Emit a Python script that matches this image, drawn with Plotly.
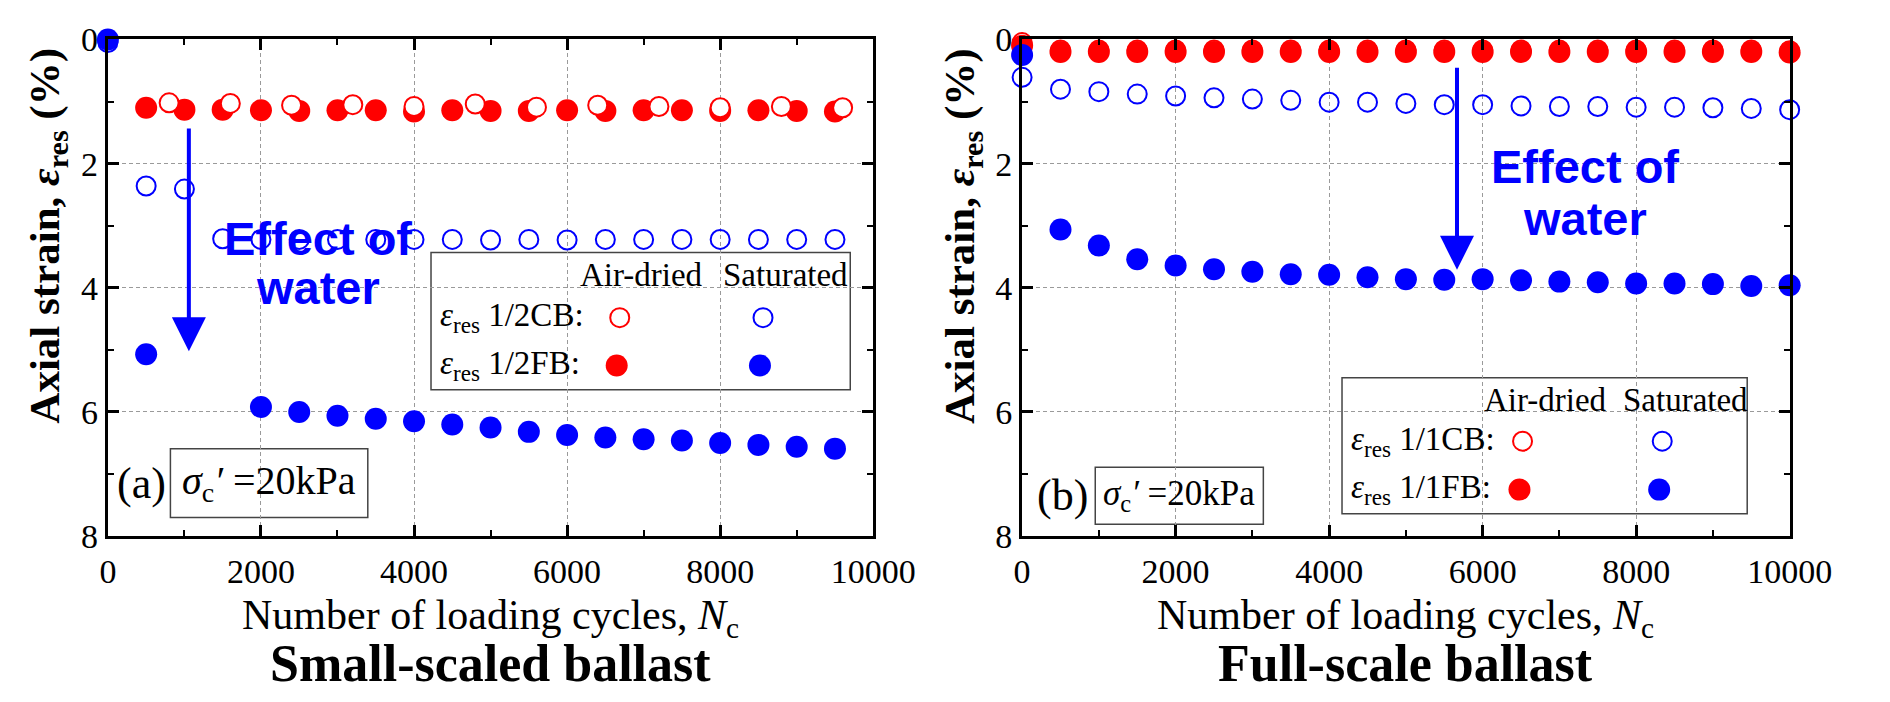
import plotly.graph_objects as go

# ---------------- data ----------------
# (a) Small-scaled ballast
N_a_air_FB = [500, 1000, 1500, 2000, 2500, 3000, 3500, 4000, 4500, 5000,
              5500, 6000, 6500, 7000, 7500, 8000, 8500, 9000, 9500]
a_air_FB = [1.10, 1.13, 1.13, 1.14, 1.15, 1.14, 1.14, 1.16, 1.14, 1.15,
            1.15, 1.14, 1.15, 1.14, 1.14, 1.15, 1.14, 1.15, 1.16]
N_a_air_CB = [800, 1600, 2400, 3200, 4000, 4800, 5600, 6400, 7200, 8000, 8800, 9600]
a_air_CB = [1.02, 1.03, 1.06, 1.05, 1.08, 1.04, 1.09, 1.06, 1.08, 1.10, 1.08, 1.10]
N_a_sat_CB = [0, 500, 1000, 1500, 2000, 2500, 3000, 3500, 4000, 4500, 5000,
              5500, 6000, 6500, 7000, 7500, 8000, 8500, 9000, 9500]
a_sat_CB = [0.05, 2.36, 2.41, 3.21, 3.22, 3.22, 3.22, 3.22, 3.22, 3.22, 3.23,
            3.22, 3.23, 3.22, 3.22, 3.22, 3.22, 3.22, 3.22, 3.22]
N_a_sat_FB = [0, 500, 2000, 2500, 3000, 3500, 4000, 4500, 5000, 5500,
              6000, 6500, 7000, 7500, 8000, 8500, 9000, 9500]
a_sat_FB = [0.00, 5.07, 5.92, 6.00, 6.06, 6.11, 6.15, 6.20, 6.25, 6.32,
            6.37, 6.41, 6.44, 6.46, 6.50, 6.53, 6.56, 6.59]

# (b) Full-scale ballast
N_b = [0, 500, 1000, 1500, 2000, 2500, 3000, 3500, 4000, 4500, 5000,
       5500, 6000, 6500, 7000, 7500, 8000, 8500, 9000, 9500, 10000]
b_air_CB = [0.05, 0.17, 0.17, 0.17, 0.17, 0.17, 0.17, 0.17, 0.17, 0.17, 0.17,
            0.17, 0.17, 0.17, 0.17, 0.17, 0.17, 0.17, 0.17, 0.17, 0.18]
b_air_FB = [0.10, 0.20, 0.20, 0.20, 0.20, 0.20, 0.20, 0.20, 0.20, 0.20, 0.20,
            0.20, 0.20, 0.20, 0.20, 0.20, 0.20, 0.20, 0.20, 0.20, 0.21]
b_sat_CB = [0.61, 0.80, 0.84, 0.88, 0.91, 0.94, 0.96, 0.98, 1.01, 1.01, 1.03,
            1.05, 1.05, 1.07, 1.08, 1.08, 1.09, 1.09, 1.10, 1.11, 1.13]
b_sat_FB = [0.25, 3.06, 3.32, 3.54, 3.64, 3.70, 3.74, 3.78, 3.79, 3.83, 3.86,
            3.87, 3.86, 3.88, 3.90, 3.91, 3.93, 3.93, 3.94, 3.97, 3.96]

x_ticks = [0, 2000, 4000, 6000, 8000, 10000]
x_tick_text = ["0", "2000", "4000", "6000", "8000", "10000"]
y_ticks = [0, 2, 4, 6, 8]
y_tick_text = ["0", "2", "4", "6", "8"]

RED = "#FF0000"
BLUE = "#0000FF"
SERIF = "Liberation Serif"
SANS = "Liberation Sans"

fig = go.Figure()

def filled(x, y, color, xa, ya):
    return go.Scatter(x=x, y=y, mode="markers", xaxis=xa, yaxis=ya, showlegend=False,
                      cliponaxis=False, hoverinfo="skip",
                      marker=dict(symbol="circle", size=22, color=color, line=dict(width=0)))

def opened(x, y, color, xa, ya, fill="white"):
    return go.Scatter(x=x, y=y, mode="markers", xaxis=xa, yaxis=ya, showlegend=False,
                      cliponaxis=False, hoverinfo="skip",
                      marker=dict(symbol="circle", size=19, color=fill,
                                  line=dict(width=2, color=color)))

CLEAR = "rgba(255,255,255,0)"
# panel (a)
fig.add_trace(filled(N_a_air_FB, a_air_FB, RED, "x", "y"))
fig.add_trace(opened(N_a_air_CB, a_air_CB, RED, "x", "y"))
fig.add_trace(filled(N_a_sat_FB, a_sat_FB, BLUE, "x", "y"))
fig.add_trace(opened(N_a_sat_CB, a_sat_CB, BLUE, "x", "y", fill=CLEAR))

# panel (b)
fig.add_trace(opened(N_b, b_air_CB, RED, "x2", "y2"))
fig.add_trace(filled(N_b, b_air_FB, RED, "x2", "y2"))
fig.add_trace(opened(N_b, b_sat_CB, BLUE, "x2", "y2", fill=CLEAR))
fig.add_trace(filled(N_b, b_sat_FB, BLUE, "x2", "y2"))

# custom legends (marker samples)
leg_a = dict(air_x=6688, sat_x=8560, r1=4.48, r2=5.25)
leg_b = dict(air_x=6520, sat_x=8340, r1=6.47, r2=7.25)
for xa, ya, L in [("x", "y", leg_a), ("x2", "y2", leg_b)]:
    fig.add_trace(opened([L["air_x"]], [L["r1"]], RED, xa, ya))
    fig.add_trace(opened([L["sat_x"]], [L["r1"]], BLUE, xa, ya))
    fig.add_trace(filled([L["air_x"] - 40], [L["r2"]], RED, xa, ya))
    fig.add_trace(filled([L["sat_x"] - 40], [L["r2"]], BLUE, xa, ya))

axis_common = dict(
    showline=True, linewidth=3, linecolor="black", mirror="ticks",
    ticks="inside", ticklen=11, tickwidth=2.5, tickcolor="black",
    showgrid=True, gridcolor="#9a9a9a", gridwidth=1, griddash="4px,3px",
    zeroline=False,
    tickfont=dict(family=SERIF, size=34, color="black"),
)

def xminor():
    return dict(ticks="inside", ticklen=6, tickwidth=2, tickcolor="black",
                dtick=1000, showgrid=False)

def yminor():
    return dict(ticks="inside", ticklen=6, tickwidth=2, tickcolor="black",
                dtick=1, showgrid=False)

ydom = [0.2208, 0.9677]
fig.update_layout(
    width=1890, height=702,
    margin=dict(l=0, r=0, t=0, b=0),
    paper_bgcolor="white", plot_bgcolor="white",
    xaxis=dict(domain=[0.0538, 0.4702], range=[0, 10000], tickvals=x_ticks,
               ticktext=x_tick_text, anchor="y", minor=xminor(), ticklabelstandoff=3,
               **axis_common),
    yaxis=dict(domain=ydom, range=[8, 0], tickvals=y_ticks, ticktext=y_tick_text,
               anchor="x", minor=yminor(), **axis_common),
    xaxis2=dict(domain=[0.5512, 0.9688], range=[0, 10000], tickvals=x_ticks,
                ticktext=x_tick_text, anchor="y2", minor=xminor(), ticklabelstandoff=3,
                **axis_common),
    yaxis2=dict(domain=ydom, range=[8, 0], tickvals=y_ticks, ticktext=y_tick_text,
                anchor="x2", minor=yminor(), **axis_common),
)

ann = []
shapes = []

def txt(text, x, y, xref, yref, size, family=SERIF, color="black", xanchor="center",
        yanchor="middle", textangle=0):
    ann.append(dict(text=text, x=x, y=y, xref=xref, yref=yref, showarrow=False,
                    font=dict(family=family, size=size, color=color),
                    xanchor=xanchor, yanchor=yanchor, textangle=textangle))

# axis titles / panel titles
for xc, xtit in [(0.2620, "Small-scaled ballast"), (0.7600, "Full-scale ballast")]:
    txt("Number of loading cycles, <i>N</i><sub>c</sub>", xc, 0.098, "paper", "paper", 42)
    txt("<b>" + xtit + "</b>", xc, 0.029, "paper", "paper", 52)
for xc in [0.0215, 0.5190]:
    txt("<b>Axial strain, <i>ε</i><sub>res</sub> (%)</b>", xc, 0.672, "paper", "paper", 43,
        textangle=-90)

# Effect of water text + arrows
txt("<b>Effect of</b>", 2740, 3.20, "x", "y", 47, family=SANS, color=BLUE)
txt("<b>water</b>", 2740, 4.00, "x", "y", 47, family=SANS, color=BLUE)
txt("<b>Effect of</b>", 7340, 2.04, "x2", "y2", 47, family=SANS, color=BLUE)
txt("<b>water</b>", 7340, 2.88, "x2", "y2", 47, family=SANS, color=BLUE)
for xr, yr, xx, y0, y1 in [("x", "y", 1058, 1.41, 5.02), ("x2", "y2", 5666, 0.43, 3.71)]:
    ann.append(dict(x=xx, y=y1, ax=xx, ay=y0, xref=xr, yref=yr, axref=xr, ayref=yr,
                    text="", showarrow=True, arrowhead=2, arrowsize=1.7, arrowwidth=4,
                    arrowcolor=BLUE, standoff=0))

# legend boxes
def legend_box(xr, yr, x0, x1, y0, y1, head_y, air_x, sat_x, r1, r2, lab):
    shapes.append(dict(type="rect", xref=xr, yref=yr, x0=x0, x1=x1, y0=y0, y1=y1,
                       line=dict(color="#444444", width=1.5), fillcolor="white",
                       layer="below"))
    txt("Air-dried", air_x, head_y, xr, yr, 33)
    txt("Saturated", sat_x + 300, head_y, xr, yr, 33)
    lx = x0 + 90
    txt("<i>ε</i><sub>res</sub> " + lab + "CB:", lx, r1, xr, yr, 33, xanchor="left")
    txt("<i>ε</i><sub>res</sub> " + lab + "FB:", lx, r2, xr, yr, 33, xanchor="left")

legend_box("x", "y", 4222, 9700, 3.43, 5.64, 3.80, 6967, 8560, 4.48, 5.25, "1/2")
legend_box("x2", "y2", 4168, 9447, 5.45, 7.64, 5.80, 6814, 8340, 6.47, 7.25, "1/1")

# condition boxes
def cond_box(xr, yr, label, lx, x0, x1, y0, y1, size, lsize):
    shapes.append(dict(type="rect", xref=xr, yref=yr, x0=x0, x1=x1, y0=y0, y1=y1,
                       line=dict(color="#444444", width=1.5), fillcolor="white",
                       layer="below"))
    txt(label, lx, (y0 + y1) / 2, xr, yr, lsize)
    txt("<i>σ</i><sub>c</sub><i>′</i> =20kPa", (x0 + x1) / 2, (y0 + y1) / 2, xr, yr, size)

cond_box("x", "y", "(a)", 437, 817, 3396, 6.59, 7.70, 40, 44)
cond_box("x2", "y2", "(b)", 523, 953, 3143, 6.89, 7.81, 35, 44)

fig.update_layout(annotations=ann, shapes=shapes)
fig.write_html("out.html",
               post_script="document.body.style.margin='0';"
                           "document.body.style.overflow='hidden';")
